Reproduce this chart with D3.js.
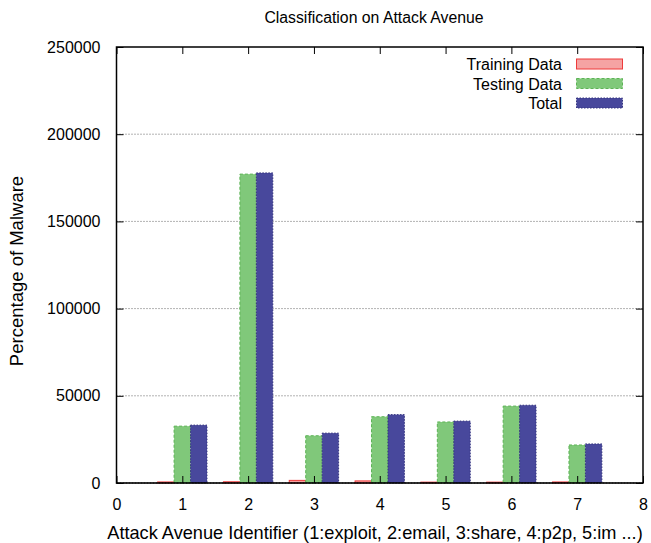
<!DOCTYPE html>
<html>
<head>
<meta charset="utf-8">
<script src="https://cdn.jsdelivr.net/npm/d3@7"></script>
<style>
  html, body { margin: 0; padding: 0; background: #fff; }
  svg { display: block; font-family: "Liberation Sans", Arial, Helvetica, sans-serif; }
</style>
</head>
<body>
<svg id="chart" width="651" height="543"></svg>
<script>
// Attack avenues 1..7 (1:exploit, 2:email, 3:share, 4:p2p, 5:im ...)
const avenues = [1, 2, 3, 4, 5, 6, 7];
const trainingData = [600, 700, 1500, 1200, 500, 500, 600];
const testingData = [32600, 177100, 27100, 38000, 35000, 44100, 21800];
const totalData = [33200, 177800, 28600, 39200, 35500, 44600, 22400];
const yTicks = [0, 50000, 100000, 150000, 200000, 250000];
const xTicks = [0, 1, 2, 3, 4, 5, 6, 7, 8];

const seriesNames = ["Training Data", "Testing Data", "Total"];
const seriesValues = [trainingData, testingData, totalData];
const seriesOffsets = [-0.25, 0, 0.25];
const seriesStyle = [
  { fill: "#f5a3a3", stroke: "#ee3b3b", dash: null },
  { fill: "#80c87a", stroke: "#5cb455", dash: "3,2" },
  { fill: "#48489c", stroke: "#34347f", dash: "1.5,1.5" }
];

const margin = { left: 116.5, right: 8, top: 47, bottom: 60 };
const W = 651, H = 543;
const svg = d3.select("#chart");

const x = d3.scaleLinear().domain([0, 8]).range([margin.left, W - margin.right]);
const y = d3.scaleLinear().domain([0, 250000]).range([H - margin.bottom, margin.top]);
const barW = x(0.25) - x(0);

// horizontal dotted grid
svg.append("g")
  .selectAll("line")
  .data(yTicks.slice(1, -1))
  .join("line")
  .attr("x1", x(0)).attr("x2", x(8))
  .attr("y1", d => y(d)).attr("y2", d => y(d))
  .attr("stroke", "#666").attr("stroke-width", 1)
  .attr("stroke-dasharray", "1,2");

// bars
seriesValues.forEach((vals, si) => {
  const st = seriesStyle[si];
  svg.append("g")
    .selectAll("rect")
    .data(avenues.map((a, i) => ({ a, v: vals[i] })))
    .join("rect")
    .attr("x", d => x(d.a + seriesOffsets[si]) - barW / 2)
    .attr("width", barW)
    .attr("y", d => y(d.v))
    .attr("height", d => y(0) - y(d.v))
    .attr("fill", st.fill)
    .attr("stroke", st.stroke)
    .attr("stroke-width", 1)
    .attr("stroke-dasharray", st.dash);
});

// zero line
svg.append("line")
  .attr("x1", x(0)).attr("x2", x(8))
  .attr("y1", y(0)).attr("y2", y(0))
  .attr("stroke", "#000").attr("stroke-width", 1)
  .attr("stroke-dasharray", "2,1");

// axes (ticks point inwards, mirrored on opposite sides)
const tickLen = 7;
const axisBottom = d3.axisBottom(x).tickValues(xTicks).tickSize(-tickLen).tickPadding(16).tickFormat(d3.format("d"));
const axisTop = d3.axisTop(x).tickValues(xTicks).tickSize(-tickLen).tickFormat("");
const axisLeft = d3.axisLeft(y).tickValues(yTicks).tickSize(-tickLen).tickPadding(16).tickFormat(d3.format("d"));
const axisRight = d3.axisRight(y).tickValues(yTicks).tickSize(-tickLen).tickFormat("");

function styleAxis(g) {
  g.select(".domain").remove();
  g.selectAll(".tick line").attr("stroke", "#000");
  g.selectAll("text").attr("font-size", 16).attr("fill", "#000")
    .attr("font-family", "Liberation Sans, Arial, sans-serif");
}
svg.append("g").attr("transform", `translate(0,${y(0)})`).call(axisBottom).call(styleAxis);
svg.append("g").attr("transform", `translate(0,${y(250000)})`).call(axisTop).call(styleAxis);
svg.append("g").attr("transform", `translate(${x(0)},0)`).call(axisLeft).call(styleAxis);
svg.append("g").attr("transform", `translate(${x(8)},0)`).call(axisRight).call(styleAxis);

// frame
svg.append("rect")
  .attr("x", x(0)).attr("y", y(250000))
  .attr("width", x(8) - x(0)).attr("height", y(0) - y(250000))
  .attr("fill", "none").attr("stroke", "#000").attr("stroke-width", 1.5);

// title and axis labels
svg.append("text")
  .attr("x", 374).attr("y", 23)
  .attr("text-anchor", "middle").attr("font-size", 15.8)
  .text("Classification on Attack Avenue");

svg.append("text")
  .attr("x", 375).attr("y", 539)
  .attr("text-anchor", "middle").attr("font-size", 18.2)
  .text("Attack Avenue Identifier (1:exploit, 2:email, 3:share, 4:p2p, 5:im ...)");

svg.append("text")
  .attr("transform", `translate(23,${(y(0) + y(250000)) / 2 + 6}) rotate(-90)`)
  .attr("text-anchor", "middle").attr("font-size", 18.5)
  .text("Percentage of Malware");

// legend
const legend = svg.append("g");
seriesNames.forEach((name, i) => {
  const cy = 64 + i * 19.5;
  legend.append("text")
    .attr("x", 562).attr("y", cy + 6)
    .attr("text-anchor", "end").attr("font-size", 16)
    .text(name);
  legend.append("rect")
    .attr("x", 576.5).attr("y", cy - 5)
    .attr("width", 46).attr("height", 10)
    .attr("fill", seriesStyle[i].fill)
    .attr("stroke", seriesStyle[i].stroke)
    .attr("stroke-dasharray", seriesStyle[i].dash);
});
</script>
</body>
</html>
